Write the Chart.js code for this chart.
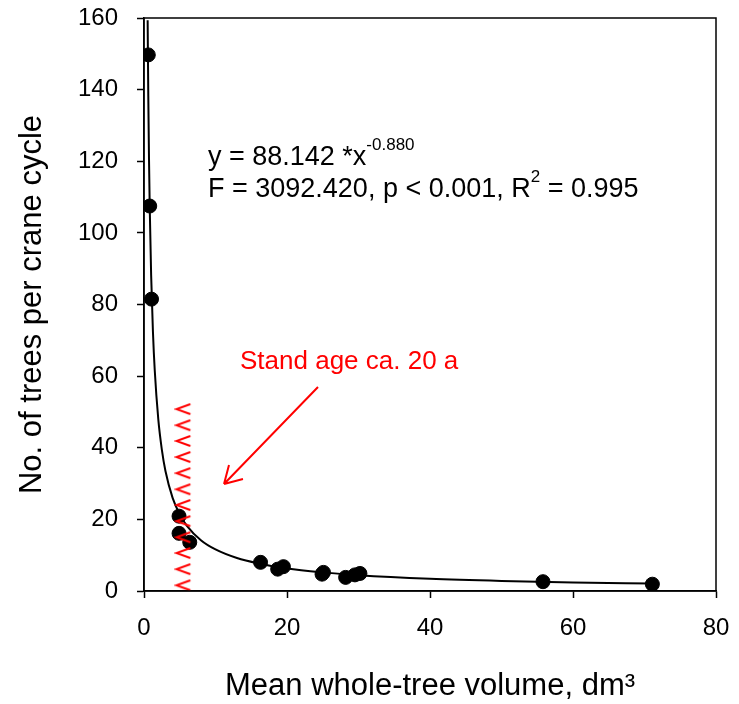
<!DOCTYPE html>
<html lang="en">
<head>
  <meta charset="UTF-8">
  <title>Trees per crane cycle</title>
  <style>
    html, body { margin: 0; padding: 0; background: #fff; }
    .container_grafico { width: 739px; height: 704px; }
  </style>
</head>
<body>
  <div class="container_grafico">
    <canvas id="grafico" width="739" height="704"></canvas>
  </div>
  <script src="https://cdn.jsdelivr.net/npm/chart.js"></script>
  <script>
    var volumeX = [0.6, 0.8, 1.05, 4.9, 4.9, 6.4, 16.3, 18.7, 19.5, 24.9, 25.1, 28.2, 29.5, 30.2, 55.8, 71.1];
    var treesY = [149.7, 107.5, 81.5, 20.9, 16.1, 13.6, 8.0, 6.1, 6.8, 4.7, 5.2, 3.8, 4.5, 4.9, 2.6, 1.9];

    // fitted curve as traced on the figure
    var curveX = [0.51, 0.6, 0.7, 0.8, 1, 1.25, 1.5, 2, 2.5, 3, 4, 5, 6, 8, 10, 13, 16, 20, 25, 30, 40, 50, 60, 71];
    var curveY = [159.4, 138.2, 120.6, 107.3, 88.1, 72.4, 61.7, 47.9, 39.4, 33.5, 26.0, 21.4, 18.2, 14.1, 11.6, 9.2, 7.7, 6.3, 5.2, 4.4, 3.4, 2.8, 2.4, 2.1];

    // red "<" marks for stand age ca. 20 a
    var standX = 5.5;
    var standY = [50.8, 46.3, 41.9, 37.4, 32.9, 28.4, 24.0, 19.5, 15.0, 10.6, 6.1, 1.6];

    var xTicks = [0, 20, 40, 60, 80];
    var yTicks = [0, 20, 40, 60, 80, 100, 120, 140, 160];

    const fonte = 'Arial, "Liberation Sans", sans-serif';

    // marcador "<" desenhado num canvas pequeno
    function criarSeta() {
      var c = document.createElement('canvas');
      c.width = 18; c.height = 14;
      var g = c.getContext('2d');
      g.strokeStyle = '#ff0000';
      g.lineWidth = 2;
      g.beginPath();
      g.moveTo(16, 2);
      g.lineTo(2, 7);
      g.lineTo(16, 12);
      g.stroke();
      return c;
    }
    var seta = criarSeta();

    var pontos = [];
    for (var i = 0; i < volumeX.length; i++) pontos.push({ x: volumeX[i], y: treesY[i] });
    var curva = [];
    for (var i = 0; i < curveX.length; i++) curva.push({ x: curveX[i], y: curveY[i] });
    var marcas = [];
    for (var i = 0; i < standY.length; i++) marcas.push({ x: standX, y: standY[i] });

    // tira o padding extra que as escalas pedem
    function semPadding(s) {
      s.paddingTop = 0; s.paddingBottom = 0; s.paddingLeft = 0; s.paddingRight = 0;
    }

    // moldura + textos
    const extras = {
      id: 'extras',
      afterDraw(chart) {
        const ctx = chart.ctx;
        const a = chart.chartArea;
        ctx.save();
        ctx.strokeStyle = '#000';
        ctx.lineWidth = 1.5;
        ctx.strokeRect(a.left, a.top, a.right - a.left, a.bottom - a.top);

        ctx.fillStyle = '#000';
        ctx.textBaseline = 'alphabetic';
        ctx.textAlign = 'left';
        ctx.font = '27px ' + fonte;
        var t1 = 'y = 88.142 *x';
        ctx.fillText(t1, 208, 165);
        var w1 = ctx.measureText(t1).width;
        ctx.font = '17px ' + fonte;
        ctx.fillText('-0.880', 208 + w1, 150);

        ctx.font = '27px ' + fonte;
        var t2 = 'F = 3092.420, p < 0.001, R';
        ctx.fillText(t2, 208, 197);
        var w2 = ctx.measureText(t2).width;
        ctx.font = '17px ' + fonte;
        ctx.fillText('2', 208 + w2, 182);
        var w3 = ctx.measureText('2').width;
        ctx.font = '27px ' + fonte;
        ctx.fillText(' = 0.995', 208 + w2 + w3, 197);

        ctx.fillStyle = '#ff0000';
        ctx.font = '26px ' + fonte;
        ctx.fillText('Stand age ca. 20 a', 240, 369);

        // seta vermelha
        ctx.strokeStyle = '#ff0000';
        ctx.lineWidth = 2;
        ctx.beginPath();
        ctx.moveTo(318, 387);
        ctx.lineTo(224, 484);
        ctx.moveTo(224, 484);
        ctx.lineTo(229, 465);
        ctx.moveTo(224, 484);
        ctx.lineTo(243, 479);
        ctx.stroke();
        ctx.restore();
      }
    };

    const config = {
      type: 'scatter',
      data: {
        datasets: [
          {
            label: 'Stand age',
            data: marcas,
            pointStyle: seta,
            pointRadius: 8,
            showLine: false
          },
          {
            label: 'Ajuste',
            data: curva,
            showLine: true,
            borderColor: '#000',
            borderWidth: 2,
            pointRadius: 0,
            cubicInterpolationMode: 'monotone',
            fill: false
          },
          {
            label: 'Observado',
            data: pontos,
            backgroundColor: '#000',
            borderColor: '#000',
            pointRadius: 7,
            pointHoverRadius: 7,
            showLine: false
          }
        ]
      },
      options: {
        responsive: false,
        animation: false,
        events: [],
        layout: { padding: { left: 0, right: 23, top: 18, bottom: 0 } },
        plugins: { legend: { display: false }, tooltip: { enabled: false } },
        scales: {
          x: {
            type: 'linear',
            min: 0, max: 80,
            afterBuildTicks: function (s) { s.ticks = xTicks.map(v => ({ value: v })); },
            afterFit: function (s) { s.height = 113; semPadding(s); },
            grid: { drawOnChartArea: false, tickLength: 7, tickColor: '#000', tickWidth: 1.5 },
            border: { color: '#000', width: 1.5 },
            ticks: { color: '#000', font: { family: fonte, size: 24 }, padding: 16, maxRotation: 0 },
            title: { display: true, text: 'Mean whole-tree volume, dm³', color: '#000', font: { family: fonte, size: 31, lineHeight: 1.0 }, padding: { top: 0, bottom: 2 } }
          },
          y: {
            type: 'linear',
            min: 0, max: 160,
            afterBuildTicks: function (s) { s.ticks = yTicks.map(v => ({ value: v })); },
            afterFit: function (s) { s.width = 144; semPadding(s); },
            grid: { drawOnChartArea: false, tickLength: 7, tickColor: '#000', tickWidth: 1.5 },
            border: { color: '#000', width: 1.5 },
            ticks: { color: '#000', font: { family: fonte, size: 24 }, padding: 19 },
            title: { display: true, text: 'No. of trees per crane cycle', color: '#000', font: { family: fonte, size: 31, lineHeight: 1.0 }, padding: { top: 17, bottom: 0 } }
          }
        }
      },
      plugins: [extras]
    };

    let grafico = new Chart(document.getElementById('grafico'), config);
  </script>
</body>
</html>
